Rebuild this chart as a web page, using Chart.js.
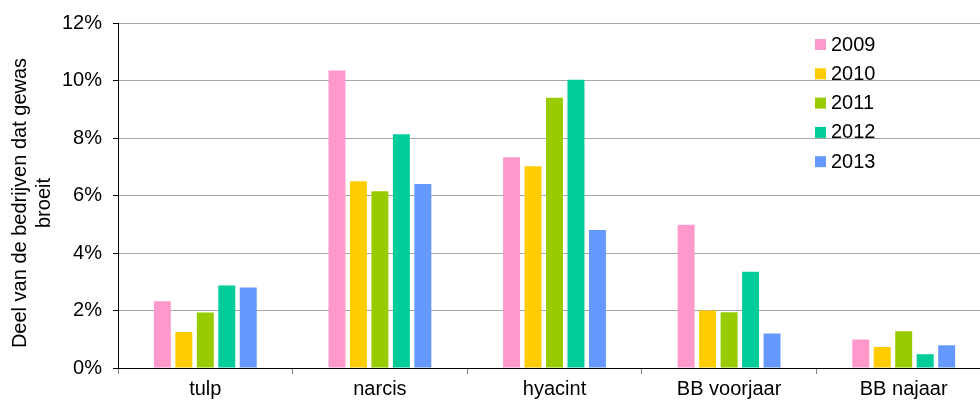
<!DOCTYPE html>
<html lang="nl">
  <head>
    <meta charset="UTF-8" />
    <title>Broei per gewas</title>
    <style>
      html, body { margin: 0; padding: 0; background: #fff; overflow: hidden; }
      #wrap { width: 980px; height: 404px; overflow: hidden; }
      #chart { display: block; }
    </style>
  </head>
  <body>
    <!-- plot loopt in het origineel iets voorbij de rechterrand door -->
    <div id="wrap"><canvas id="chart" width="991" height="404"></canvas></div>
    <script src="https://cdn.jsdelivr.net/npm/chart.js@4.4.0/dist/chart.umd.min.js"></script>
    <script>
      // gewassen (categorieen)
      const gewassen = ['tulp', 'narcis', 'hyacint', 'BB voorjaar', 'BB najaar'];
      const jaren = ['2009', '2010', '2011', '2012', '2013'];
      // percentage bedrijven dat broeit, per jaar
      const v2009 = [2.32, 10.35, 7.33, 4.98, 0.99];
      const v2010 = [1.25, 6.5, 7.02, 2.0, 0.73];
      const v2011 = [1.93, 6.15, 9.4, 1.94, 1.28];
      const v2012 = [2.87, 8.13, 10.03, 3.35, 0.48];
      const v2013 = [2.8, 6.4, 4.8, 1.2, 0.79];
      const yTicks = [0, 2, 4, 6, 8, 10, 12];
      const yTitel = ['Deel van de bedrijven dat gewas', 'broeit'];

      const kleuren = ['#ff99cc', '#ffcc00', '#99cc00', '#00cc99', '#6699ff'];
      const reeksen = [v2009, v2010, v2011, v2012, v2013];
      const FONT = '"Liberation Sans", Arial, sans-serif';

      // legenda in de grafiek + y-as titel
      const extras = {
        id: 'extras',
        afterDraw(chart) {
          const ctx = chart.ctx;
          ctx.save();
          ctx.font = '20px ' + FONT;
          ctx.textBaseline = 'middle';
          ctx.textAlign = 'left';
          chart.data.datasets.forEach((ds, i) => {
            const y = 44 + i * 29.3;
            ctx.fillStyle = ds.backgroundColor;
            ctx.fillRect(815, y - 5, 11, 11);
            ctx.fillStyle = '#000';
            ctx.fillText(ds.label, 831, y + 1);
          });
          // y-as titel
          ctx.translate(26, 203);
          ctx.rotate(-Math.PI / 2);
          ctx.textAlign = 'center';
          ctx.textBaseline = 'alphabetic';
          ctx.fillText(yTitel[0], 0, 0);
          ctx.fillText(yTitel[1], 0, 24);
          ctx.restore();
        },
      };

      new Chart(document.getElementById('chart'), {
        type: 'bar',
        data: {
          labels: gewassen,
          datasets: jaren.map((j, i) => ({
            label: j,
            data: reeksen[i],
            backgroundColor: kleuren[i],
            borderWidth: 0,
            categoryPercentage: 0.615,
            barPercentage: 0.79,
          })),
        },
        options: {
          responsive: false,
          animation: false,
          devicePixelRatio: 1,
          layout: { padding: { top: 13, right: 0, left: 0, bottom: 0 } },
          plugins: { legend: { display: false }, tooltip: { enabled: false } },
          scales: {
            x: {
              offset: true,
              grid: {
                offset: true,
                drawOnChartArea: false,
                tickLength: 6,
                tickColor: '#808080',
              },
              border: { color: '#000', width: 1 },
              ticks: {
                color: '#000',
                font: { family: FONT, size: 20 },
                padding: 3,
                maxRotation: 0,
                autoSkip: false,
              },
              afterFit(s) { s.height = 36; },
            },
            y: {
              min: 0,
              max: 12,
              afterBuildTicks(s) { s.ticks = yTicks.map((v) => ({ value: v })); },
              grid: {
                color: '#a6a6a6',
                borderDash: [1, 1],
                tickColor: '#000',
                tickLength: 5,
                tickBorderDash: [],
              },
              border: { color: '#000', width: 1 },
              ticks: {
                color: '#000',
                font: { family: FONT, size: 20 },
                padding: 11,
                autoSkip: false,
                callback: (v) => v + '%',
              },
              afterFit(s) { s.width = 118; },
            },
          },
        },
        plugins: [extras],
      });
    </script>
  </body>
</html>
